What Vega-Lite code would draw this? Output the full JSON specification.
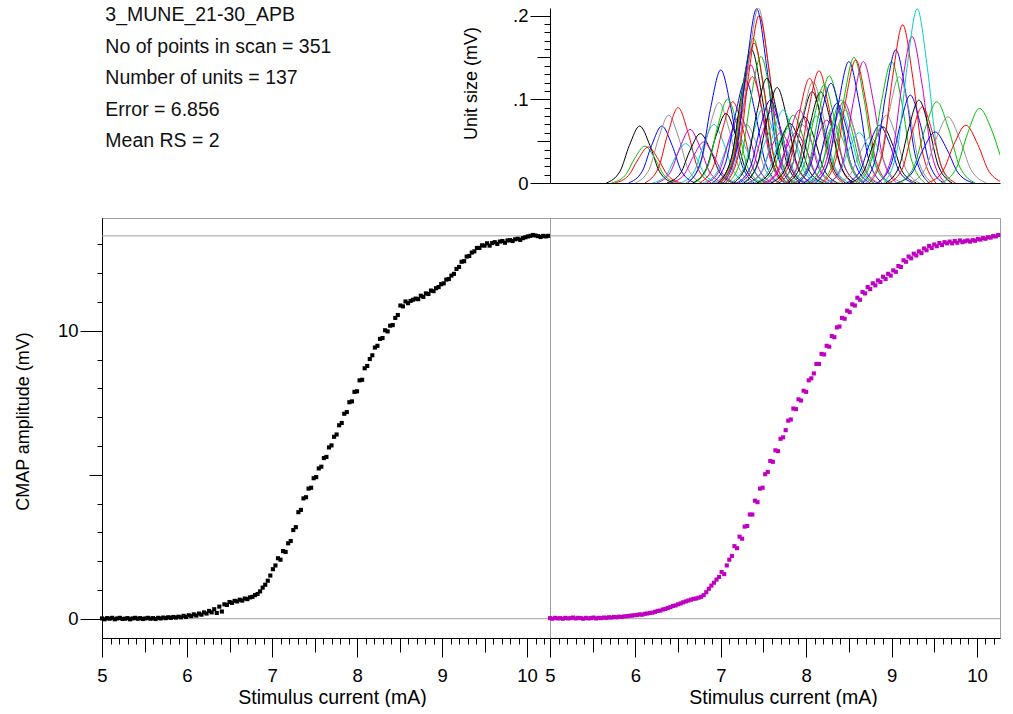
{
"$schema": "https://vega.github.io/schema/vega-lite/v6.json",
"background": "white",
"padding": {"left": 13, "top": 5, "right": 0, "bottom": 0},
"config": {
  "font": "Liberation Sans",
  "view": {"stroke": "#a0a0a0", "strokeWidth": 1},
  "axis": {"labelFont": "Liberation Sans", "titleFont": "Liberation Sans", "labelColor": "black", "titleColor": "black", "tickColor": "black", "domainColor": "black", "titleFontWeight": "normal", "grid": false, "labelOverlap": false, "labelBound": false, "labelFlush": false, "tickWidth": 1, "domainWidth": 1, "labelFontSize": 18.5}
},
"datasets": {
  "info": [
    {"line": 0, "text": "3_MUNE_21-30_APB"},
    {"line": 1, "text": "No of points in scan = 351"},
    {"line": 2, "text": "Number of units = 137"},
    {"line": 3, "text": "Error = 6.856"},
    {"line": 4, "text": "Mean RS = 2"}
  ],
  "refs": [{"ref": 0}, {"ref": 13.3}],
  "units": [
{"u":1,"x":5.66,"y":0},{"u":1,"x":5.82,"y":0.014},{"u":1,"x":5.93,"y":0.045},{"u":1,"x":6.05,"y":0.068},{"u":1,"x":6.17,"y":0.045},{"u":1,"x":6.28,"y":0.014},{"u":1,"x":6.44,"y":0},
{"u":3,"x":5.72,"y":0},{"u":3,"x":5.88,"y":0.009},{"u":3,"x":5.99,"y":0.029},{"u":3,"x":6.11,"y":0.044},{"u":3,"x":6.23,"y":0.029},{"u":3,"x":6.34,"y":0.009},{"u":3,"x":6.50,"y":0},
{"u":2,"x":5.76,"y":0},{"u":2,"x":5.92,"y":0.009},{"u":2,"x":6.03,"y":0.028},{"u":2,"x":6.15,"y":0.043},{"u":2,"x":6.27,"y":0.028},{"u":2,"x":6.38,"y":0.009},{"u":2,"x":6.54,"y":0},
{"u":4,"x":5.92,"y":0},{"u":4,"x":6.08,"y":0.014},{"u":4,"x":6.19,"y":0.045},{"u":4,"x":6.31,"y":0.068},{"u":4,"x":6.43,"y":0.045},{"u":4,"x":6.54,"y":0.014},{"u":4,"x":6.70,"y":0},
{"u":5,"x":6.00,"y":0},{"u":5,"x":6.16,"y":0.016},{"u":5,"x":6.27,"y":0.053},{"u":5,"x":6.39,"y":0.081},{"u":5,"x":6.51,"y":0.053},{"u":5,"x":6.62,"y":0.016},{"u":5,"x":6.78,"y":0},
{"u":9,"x":6.11,"y":0},{"u":9,"x":6.27,"y":0.018},{"u":9,"x":6.38,"y":0.059},{"u":9,"x":6.50,"y":0.090},{"u":9,"x":6.62,"y":0.059},{"u":9,"x":6.73,"y":0.018},{"u":9,"x":6.89,"y":0},
{"u":7,"x":6.20,"y":0},{"u":7,"x":6.36,"y":0.009},{"u":7,"x":6.47,"y":0.031},{"u":7,"x":6.59,"y":0.047},{"u":7,"x":6.71,"y":0.031},{"u":7,"x":6.82,"y":0.009},{"u":7,"x":6.98,"y":0},
{"u":6,"x":6.25,"y":0},{"u":6,"x":6.41,"y":0.013},{"u":6,"x":6.52,"y":0.042},{"u":6,"x":6.64,"y":0.064},{"u":6,"x":6.76,"y":0.042},{"u":6,"x":6.87,"y":0.013},{"u":6,"x":7.03,"y":0},
{"u":8,"x":6.37,"y":0},{"u":8,"x":6.53,"y":0.012},{"u":8,"x":6.64,"y":0.039},{"u":8,"x":6.76,"y":0.059},{"u":8,"x":6.88,"y":0.039},{"u":8,"x":6.99,"y":0.012},{"u":8,"x":7.15,"y":0},
{"u":13,"x":6.41,"y":0},{"u":13,"x":6.57,"y":0.010},{"u":13,"x":6.68,"y":0.032},{"u":13,"x":6.80,"y":0.049},{"u":13,"x":6.92,"y":0.032},{"u":13,"x":7.03,"y":0.010},{"u":13,"x":7.19,"y":0},
{"u":14,"x":6.53,"y":0},{"u":14,"x":6.69,"y":0.014},{"u":14,"x":6.80,"y":0.046},{"u":14,"x":6.92,"y":0.070},{"u":14,"x":7.04,"y":0.046},{"u":14,"x":7.15,"y":0.014},{"u":14,"x":7.31,"y":0},
{"u":12,"x":6.59,"y":0},{"u":12,"x":6.75,"y":0.019},{"u":12,"x":6.86,"y":0.063},{"u":12,"x":6.98,"y":0.096},{"u":12,"x":7.10,"y":0.063},{"u":12,"x":7.21,"y":0.019},{"u":12,"x":7.37,"y":0},
{"u":11,"x":6.61,"y":0},{"u":11,"x":6.77,"y":0.027},{"u":11,"x":6.88,"y":0.089},{"u":11,"x":7.00,"y":0.135},{"u":11,"x":7.12,"y":0.089},{"u":11,"x":7.23,"y":0.027},{"u":11,"x":7.39,"y":0},
{"u":15,"x":6.67,"y":0},{"u":15,"x":6.83,"y":0.017},{"u":15,"x":6.94,"y":0.055},{"u":15,"x":7.06,"y":0.083},{"u":15,"x":7.18,"y":0.055},{"u":15,"x":7.29,"y":0.017},{"u":15,"x":7.45,"y":0},
{"u":10,"x":6.69,"y":0},{"u":10,"x":6.85,"y":0.020},{"u":10,"x":6.96,"y":0.066},{"u":10,"x":7.08,"y":0.100},{"u":10,"x":7.20,"y":0.066},{"u":10,"x":7.31,"y":0.020},{"u":10,"x":7.47,"y":0},
{"u":16,"x":6.75,"y":0},{"u":16,"x":6.91,"y":0.019},{"u":16,"x":7.02,"y":0.064},{"u":16,"x":7.14,"y":0.097},{"u":16,"x":7.26,"y":0.064},{"u":16,"x":7.37,"y":0.019},{"u":16,"x":7.53,"y":0},
{"u":21,"x":6.79,"y":0},{"u":21,"x":6.95,"y":0.012},{"u":21,"x":7.06,"y":0.040},{"u":21,"x":7.18,"y":0.060},{"u":21,"x":7.30,"y":0.040},{"u":21,"x":7.41,"y":0.012},{"u":21,"x":7.57,"y":0},
{"u":20,"x":6.83,"y":0},{"u":20,"x":6.99,"y":0.016},{"u":20,"x":7.10,"y":0.053},{"u":20,"x":7.22,"y":0.080},{"u":20,"x":7.34,"y":0.053},{"u":20,"x":7.45,"y":0.016},{"u":20,"x":7.61,"y":0},
{"u":18,"x":6.90,"y":0},{"u":18,"x":7.06,"y":0.025},{"u":18,"x":7.17,"y":0.081},{"u":18,"x":7.29,"y":0.123},{"u":18,"x":7.41,"y":0.081},{"u":18,"x":7.52,"y":0.025},{"u":18,"x":7.68,"y":0},
{"u":19,"x":6.91,"y":0},{"u":19,"x":7.07,"y":0.014},{"u":19,"x":7.18,"y":0.046},{"u":19,"x":7.30,"y":0.070},{"u":19,"x":7.42,"y":0.046},{"u":19,"x":7.53,"y":0.014},{"u":19,"x":7.69,"y":0},
{"u":27,"x":6.96,"y":0},{"u":27,"x":7.12,"y":0.028},{"u":27,"x":7.23,"y":0.093},{"u":27,"x":7.35,"y":0.141},{"u":27,"x":7.47,"y":0.093},{"u":27,"x":7.58,"y":0.028},{"u":27,"x":7.74,"y":0},
{"u":22,"x":6.97,"y":0},{"u":22,"x":7.13,"y":0.032},{"u":22,"x":7.24,"y":0.105},{"u":22,"x":7.36,"y":0.159},{"u":22,"x":7.48,"y":0.105},{"u":22,"x":7.59,"y":0.032},{"u":22,"x":7.75,"y":0},
{"u":23,"x":6.98,"y":0},{"u":23,"x":7.14,"y":0.025},{"u":23,"x":7.25,"y":0.084},{"u":23,"x":7.37,"y":0.127},{"u":23,"x":7.49,"y":0.084},{"u":23,"x":7.60,"y":0.025},{"u":23,"x":7.76,"y":0},
{"u":17,"x":6.99,"y":0},{"u":17,"x":7.15,"y":0.035},{"u":17,"x":7.26,"y":0.114},{"u":17,"x":7.38,"y":0.173},{"u":17,"x":7.50,"y":0.114},{"u":17,"x":7.61,"y":0.035},{"u":17,"x":7.77,"y":0},
{"u":30,"x":7.00,"y":0},{"u":30,"x":7.16,"y":0.033},{"u":30,"x":7.27,"y":0.110},{"u":30,"x":7.39,"y":0.167},{"u":30,"x":7.51,"y":0.110},{"u":30,"x":7.62,"y":0.033},{"u":30,"x":7.78,"y":0},
{"u":25,"x":7.03,"y":0},{"u":25,"x":7.19,"y":0.042},{"u":25,"x":7.30,"y":0.137},{"u":25,"x":7.42,"y":0.208},{"u":25,"x":7.54,"y":0.137},{"u":25,"x":7.65,"y":0.042},{"u":25,"x":7.81,"y":0},
{"u":26,"x":7.05,"y":0},{"u":26,"x":7.21,"y":0.042},{"u":26,"x":7.32,"y":0.138},{"u":26,"x":7.44,"y":0.209},{"u":26,"x":7.56,"y":0.138},{"u":26,"x":7.67,"y":0.042},{"u":26,"x":7.83,"y":0},
{"u":37,"x":7.06,"y":0},{"u":37,"x":7.22,"y":0.040},{"u":37,"x":7.33,"y":0.132},{"u":37,"x":7.45,"y":0.200},{"u":37,"x":7.57,"y":0.132},{"u":37,"x":7.68,"y":0.040},{"u":37,"x":7.84,"y":0},
{"u":24,"x":7.08,"y":0},{"u":24,"x":7.24,"y":0.030},{"u":24,"x":7.35,"y":0.100},{"u":24,"x":7.47,"y":0.151},{"u":24,"x":7.59,"y":0.100},{"u":24,"x":7.70,"y":0.030},{"u":24,"x":7.86,"y":0},
{"u":28,"x":7.11,"y":0},{"u":28,"x":7.27,"y":0.018},{"u":28,"x":7.38,"y":0.059},{"u":28,"x":7.50,"y":0.090},{"u":28,"x":7.62,"y":0.059},{"u":28,"x":7.73,"y":0.018},{"u":28,"x":7.89,"y":0},
{"u":29,"x":7.15,"y":0},{"u":29,"x":7.31,"y":0.025},{"u":29,"x":7.42,"y":0.083},{"u":29,"x":7.54,"y":0.125},{"u":29,"x":7.66,"y":0.083},{"u":29,"x":7.77,"y":0.025},{"u":29,"x":7.93,"y":0},
{"u":32,"x":7.19,"y":0},{"u":32,"x":7.35,"y":0.020},{"u":32,"x":7.46,"y":0.065},{"u":32,"x":7.58,"y":0.099},{"u":32,"x":7.70,"y":0.065},{"u":32,"x":7.81,"y":0.020},{"u":32,"x":7.97,"y":0},
{"u":34,"x":7.21,"y":0},{"u":34,"x":7.37,"y":0.017},{"u":34,"x":7.48,"y":0.057},{"u":34,"x":7.60,"y":0.087},{"u":34,"x":7.72,"y":0.057},{"u":34,"x":7.83,"y":0.017},{"u":34,"x":7.99,"y":0},
{"u":35,"x":7.24,"y":0},{"u":35,"x":7.40,"y":0.014},{"u":35,"x":7.51,"y":0.046},{"u":35,"x":7.63,"y":0.070},{"u":35,"x":7.75,"y":0.046},{"u":35,"x":7.86,"y":0.014},{"u":35,"x":8.02,"y":0},
{"u":36,"x":7.27,"y":0},{"u":36,"x":7.43,"y":0.023},{"u":36,"x":7.54,"y":0.075},{"u":36,"x":7.66,"y":0.114},{"u":36,"x":7.78,"y":0.075},{"u":36,"x":7.89,"y":0.023},{"u":36,"x":8.05,"y":0},
{"u":41,"x":7.31,"y":0},{"u":41,"x":7.47,"y":0.012},{"u":41,"x":7.58,"y":0.040},{"u":41,"x":7.70,"y":0.060},{"u":41,"x":7.82,"y":0.040},{"u":41,"x":7.93,"y":0.012},{"u":41,"x":8.09,"y":0},
{"u":42,"x":7.34,"y":0},{"u":42,"x":7.50,"y":0.017},{"u":42,"x":7.61,"y":0.057},{"u":42,"x":7.73,"y":0.087},{"u":42,"x":7.85,"y":0.057},{"u":42,"x":7.96,"y":0.017},{"u":42,"x":8.12,"y":0},
{"u":49,"x":7.39,"y":0},{"u":49,"x":7.55,"y":0.013},{"u":49,"x":7.66,"y":0.043},{"u":49,"x":7.78,"y":0.065},{"u":49,"x":7.90,"y":0.043},{"u":49,"x":8.01,"y":0.013},{"u":49,"x":8.17,"y":0},
{"u":43,"x":7.42,"y":0},{"u":43,"x":7.58,"y":0.014},{"u":43,"x":7.69,"y":0.047},{"u":43,"x":7.81,"y":0.071},{"u":43,"x":7.93,"y":0.047},{"u":43,"x":8.04,"y":0.014},{"u":43,"x":8.20,"y":0},
{"u":31,"x":7.46,"y":0},{"u":31,"x":7.62,"y":0.016},{"u":31,"x":7.73,"y":0.053},{"u":31,"x":7.85,"y":0.081},{"u":31,"x":7.97,"y":0.053},{"u":31,"x":8.08,"y":0.016},{"u":31,"x":8.24,"y":0},
{"u":48,"x":7.49,"y":0},{"u":48,"x":7.65,"y":0.012},{"u":48,"x":7.76,"y":0.040},{"u":48,"x":7.88,"y":0.060},{"u":48,"x":8.00,"y":0.040},{"u":48,"x":8.11,"y":0.012},{"u":48,"x":8.27,"y":0},
{"u":55,"x":7.53,"y":0},{"u":55,"x":7.69,"y":0.017},{"u":55,"x":7.80,"y":0.057},{"u":55,"x":7.92,"y":0.087},{"u":55,"x":8.04,"y":0.057},{"u":55,"x":8.15,"y":0.017},{"u":55,"x":8.31,"y":0},
{"u":33,"x":7.56,"y":0},{"u":33,"x":7.72,"y":0.014},{"u":33,"x":7.83,"y":0.046},{"u":33,"x":7.95,"y":0.070},{"u":33,"x":8.07,"y":0.046},{"u":33,"x":8.18,"y":0.014},{"u":33,"x":8.34,"y":0},
{"u":50,"x":7.59,"y":0},{"u":50,"x":7.75,"y":0.016},{"u":50,"x":7.86,"y":0.052},{"u":50,"x":7.98,"y":0.079},{"u":50,"x":8.10,"y":0.052},{"u":50,"x":8.21,"y":0.016},{"u":50,"x":8.37,"y":0},
{"u":44,"x":7.65,"y":0},{"u":44,"x":7.81,"y":0.025},{"u":44,"x":7.92,"y":0.083},{"u":44,"x":8.04,"y":0.125},{"u":44,"x":8.16,"y":0.083},{"u":44,"x":8.27,"y":0.025},{"u":44,"x":8.43,"y":0},
{"u":57,"x":7.68,"y":0},{"u":57,"x":7.84,"y":0.022},{"u":57,"x":7.95,"y":0.072},{"u":57,"x":8.07,"y":0.109},{"u":57,"x":8.19,"y":0.072},{"u":57,"x":8.30,"y":0.022},{"u":57,"x":8.46,"y":0},
{"u":40,"x":7.69,"y":0},{"u":40,"x":7.85,"y":0.024},{"u":40,"x":7.96,"y":0.080},{"u":40,"x":8.08,"y":0.121},{"u":40,"x":8.20,"y":0.080},{"u":40,"x":8.31,"y":0.024},{"u":40,"x":8.47,"y":0},
{"u":56,"x":7.73,"y":0},{"u":56,"x":7.89,"y":0.016},{"u":56,"x":8.00,"y":0.053},{"u":56,"x":8.12,"y":0.080},{"u":56,"x":8.24,"y":0.053},{"u":56,"x":8.35,"y":0.016},{"u":56,"x":8.51,"y":0},
{"u":51,"x":7.76,"y":0},{"u":51,"x":7.92,"y":0.027},{"u":51,"x":8.03,"y":0.088},{"u":51,"x":8.15,"y":0.134},{"u":51,"x":8.27,"y":0.088},{"u":51,"x":8.38,"y":0.027},{"u":51,"x":8.54,"y":0},
{"u":64,"x":7.78,"y":0},{"u":64,"x":7.94,"y":0.022},{"u":64,"x":8.05,"y":0.072},{"u":64,"x":8.17,"y":0.109},{"u":64,"x":8.29,"y":0.072},{"u":64,"x":8.40,"y":0.022},{"u":64,"x":8.56,"y":0},
{"u":38,"x":7.82,"y":0},{"u":38,"x":7.98,"y":0.023},{"u":38,"x":8.09,"y":0.077},{"u":38,"x":8.21,"y":0.117},{"u":38,"x":8.33,"y":0.077},{"u":38,"x":8.44,"y":0.023},{"u":38,"x":8.60,"y":0},
{"u":62,"x":7.85,"y":0},{"u":62,"x":8.01,"y":0.015},{"u":62,"x":8.12,"y":0.050},{"u":62,"x":8.24,"y":0.075},{"u":62,"x":8.36,"y":0.050},{"u":62,"x":8.47,"y":0.015},{"u":62,"x":8.63,"y":0},
{"u":45,"x":7.88,"y":0},{"u":45,"x":8.04,"y":0.026},{"u":45,"x":8.15,"y":0.084},{"u":45,"x":8.27,"y":0.128},{"u":45,"x":8.39,"y":0.084},{"u":45,"x":8.50,"y":0.026},{"u":45,"x":8.66,"y":0},
{"u":39,"x":7.90,"y":0},{"u":39,"x":8.06,"y":0.024},{"u":39,"x":8.17,"y":0.079},{"u":39,"x":8.29,"y":0.119},{"u":39,"x":8.41,"y":0.079},{"u":39,"x":8.52,"y":0.024},{"u":39,"x":8.68,"y":0},
{"u":47,"x":7.94,"y":0},{"u":47,"x":8.10,"y":0.014},{"u":47,"x":8.21,"y":0.046},{"u":47,"x":8.33,"y":0.070},{"u":47,"x":8.45,"y":0.046},{"u":47,"x":8.56,"y":0.014},{"u":47,"x":8.72,"y":0},
{"u":46,"x":7.97,"y":0},{"u":46,"x":8.13,"y":0.019},{"u":46,"x":8.24,"y":0.063},{"u":46,"x":8.36,"y":0.095},{"u":46,"x":8.48,"y":0.063},{"u":46,"x":8.59,"y":0.019},{"u":46,"x":8.75,"y":0},
{"u":63,"x":8.01,"y":0},{"u":63,"x":8.17,"y":0.017},{"u":63,"x":8.28,"y":0.057},{"u":63,"x":8.40,"y":0.087},{"u":63,"x":8.52,"y":0.057},{"u":63,"x":8.63,"y":0.017},{"u":63,"x":8.79,"y":0},
{"u":52,"x":8.02,"y":0},{"u":52,"x":8.18,"y":0.020},{"u":52,"x":8.29,"y":0.065},{"u":52,"x":8.41,"y":0.099},{"u":52,"x":8.53,"y":0.065},{"u":52,"x":8.64,"y":0.020},{"u":52,"x":8.80,"y":0},
{"u":69,"x":8.05,"y":0},{"u":69,"x":8.21,"y":0.019},{"u":69,"x":8.32,"y":0.064},{"u":69,"x":8.44,"y":0.097},{"u":69,"x":8.56,"y":0.064},{"u":69,"x":8.67,"y":0.019},{"u":69,"x":8.83,"y":0},
{"u":54,"x":8.07,"y":0},{"u":54,"x":8.23,"y":0.017},{"u":54,"x":8.34,"y":0.057},{"u":54,"x":8.46,"y":0.087},{"u":54,"x":8.58,"y":0.057},{"u":54,"x":8.69,"y":0.017},{"u":54,"x":8.85,"y":0},
{"u":53,"x":8.11,"y":0},{"u":53,"x":8.27,"y":0.029},{"u":53,"x":8.38,"y":0.096},{"u":53,"x":8.50,"y":0.145},{"u":53,"x":8.62,"y":0.096},{"u":53,"x":8.73,"y":0.029},{"u":53,"x":8.89,"y":0},
{"u":59,"x":8.17,"y":0},{"u":59,"x":8.33,"y":0.030},{"u":59,"x":8.44,"y":0.099},{"u":59,"x":8.56,"y":0.150},{"u":59,"x":8.68,"y":0.099},{"u":59,"x":8.79,"y":0.030},{"u":59,"x":8.95,"y":0},
{"u":58,"x":8.19,"y":0},{"u":58,"x":8.35,"y":0.029},{"u":58,"x":8.46,"y":0.097},{"u":58,"x":8.58,"y":0.147},{"u":58,"x":8.70,"y":0.097},{"u":58,"x":8.81,"y":0.029},{"u":58,"x":8.97,"y":0},
{"u":70,"x":8.23,"y":0},{"u":70,"x":8.39,"y":0.012},{"u":70,"x":8.50,"y":0.040},{"u":70,"x":8.62,"y":0.060},{"u":70,"x":8.74,"y":0.040},{"u":70,"x":8.85,"y":0.012},{"u":70,"x":9.01,"y":0},
{"u":76,"x":8.28,"y":0},{"u":76,"x":8.44,"y":0.029},{"u":76,"x":8.55,"y":0.096},{"u":76,"x":8.67,"y":0.145},{"u":76,"x":8.79,"y":0.096},{"u":76,"x":8.90,"y":0.029},{"u":76,"x":9.06,"y":0},
{"u":61,"x":8.36,"y":0},{"u":61,"x":8.52,"y":0.011},{"u":61,"x":8.63,"y":0.036},{"u":61,"x":8.75,"y":0.055},{"u":61,"x":8.87,"y":0.036},{"u":61,"x":8.98,"y":0.011},{"u":61,"x":9.14,"y":0},
{"u":60,"x":8.47,"y":0},{"u":60,"x":8.63,"y":0.014},{"u":60,"x":8.74,"y":0.046},{"u":60,"x":8.86,"y":0.069},{"u":60,"x":8.98,"y":0.046},{"u":60,"x":9.09,"y":0.014},{"u":60,"x":9.25,"y":0},
{"u":71,"x":8.51,"y":0},{"u":71,"x":8.67,"y":0.013},{"u":71,"x":8.78,"y":0.044},{"u":71,"x":8.90,"y":0.067},{"u":71,"x":9.02,"y":0.044},{"u":71,"x":9.13,"y":0.013},{"u":71,"x":9.29,"y":0},
{"u":68,"x":8.55,"y":0},{"u":68,"x":8.71,"y":0.016},{"u":68,"x":8.82,"y":0.053},{"u":68,"x":8.94,"y":0.081},{"u":68,"x":9.06,"y":0.053},{"u":68,"x":9.17,"y":0.016},{"u":68,"x":9.33,"y":0},
{"u":66,"x":8.61,"y":0},{"u":66,"x":8.77,"y":0.029},{"u":66,"x":8.88,"y":0.096},{"u":66,"x":9.00,"y":0.145},{"u":66,"x":9.12,"y":0.096},{"u":66,"x":9.23,"y":0.029},{"u":66,"x":9.39,"y":0},
{"u":67,"x":8.66,"y":0},{"u":67,"x":8.82,"y":0.032},{"u":67,"x":8.93,"y":0.105},{"u":67,"x":9.05,"y":0.159},{"u":67,"x":9.17,"y":0.105},{"u":67,"x":9.28,"y":0.032},{"u":67,"x":9.44,"y":0},
{"u":75,"x":8.70,"y":0},{"u":75,"x":8.86,"y":0.025},{"u":75,"x":8.97,"y":0.084},{"u":75,"x":9.09,"y":0.127},{"u":75,"x":9.21,"y":0.084},{"u":75,"x":9.32,"y":0.025},{"u":75,"x":9.48,"y":0},
{"u":65,"x":8.74,"y":0},{"u":65,"x":8.90,"y":0.038},{"u":65,"x":9.01,"y":0.125},{"u":65,"x":9.13,"y":0.189},{"u":65,"x":9.25,"y":0.125},{"u":65,"x":9.36,"y":0.038},{"u":65,"x":9.52,"y":0},
{"u":74,"x":8.83,"y":0},{"u":74,"x":8.99,"y":0.021},{"u":74,"x":9.10,"y":0.069},{"u":74,"x":9.22,"y":0.105},{"u":74,"x":9.34,"y":0.069},{"u":74,"x":9.45,"y":0.021},{"u":74,"x":9.61,"y":0},
{"u":83,"x":8.85,"y":0},{"u":83,"x":9.01,"y":0.035},{"u":83,"x":9.12,"y":0.116},{"u":83,"x":9.24,"y":0.175},{"u":83,"x":9.36,"y":0.116},{"u":83,"x":9.47,"y":0.035},{"u":83,"x":9.63,"y":0},
{"u":77,"x":8.91,"y":0},{"u":77,"x":9.07,"y":0.042},{"u":77,"x":9.18,"y":0.137},{"u":77,"x":9.30,"y":0.208},{"u":77,"x":9.42,"y":0.137},{"u":77,"x":9.53,"y":0.042},{"u":77,"x":9.69,"y":0},
{"u":78,"x":8.93,"y":0},{"u":78,"x":9.09,"y":0.020},{"u":78,"x":9.20,"y":0.065},{"u":78,"x":9.32,"y":0.099},{"u":78,"x":9.44,"y":0.065},{"u":78,"x":9.55,"y":0.020},{"u":78,"x":9.71,"y":0},
{"u":72,"x":8.97,"y":0},{"u":72,"x":9.13,"y":0.018},{"u":72,"x":9.24,"y":0.060},{"u":72,"x":9.36,"y":0.091},{"u":72,"x":9.48,"y":0.060},{"u":72,"x":9.59,"y":0.018},{"u":72,"x":9.75,"y":0},
{"u":81,"x":9.06,"y":0},{"u":81,"x":9.24,"y":0.012},{"u":81,"x":9.37,"y":0.040},{"u":81,"x":9.51,"y":0.061},{"u":81,"x":9.65,"y":0.040},{"u":81,"x":9.78,"y":0.012},{"u":81,"x":9.96,"y":0},
{"u":73,"x":9.08,"y":0},{"u":73,"x":9.26,"y":0.019},{"u":73,"x":9.39,"y":0.064},{"u":73,"x":9.53,"y":0.097},{"u":73,"x":9.67,"y":0.064},{"u":73,"x":9.80,"y":0.019},{"u":73,"x":9.98,"y":0},
{"u":82,"x":9.21,"y":0},{"u":82,"x":9.39,"y":0.016},{"u":82,"x":9.52,"y":0.052},{"u":82,"x":9.66,"y":0.079},{"u":82,"x":9.80,"y":0.052},{"u":82,"x":9.93,"y":0.016},{"u":82,"x":10.11,"y":0},
{"u":79,"x":9.42,"y":0},{"u":79,"x":9.60,"y":0.014},{"u":79,"x":9.73,"y":0.046},{"u":79,"x":9.87,"y":0.069},{"u":79,"x":10.01,"y":0.046},{"u":79,"x":10.14,"y":0.014},{"u":79,"x":10.32,"y":0},
{"u":80,"x":9.58,"y":0},{"u":80,"x":9.76,"y":0.018},{"u":80,"x":9.89,"y":0.059},{"u":80,"x":10.03,"y":0.089},{"u":80,"x":10.17,"y":0.064},{"u":80,"x":10.30,"y":0.026},{"u":80,"x":10.48,"y":0}
  ],
  "raw": [
{"x":5.00,"y":0.01},{"x":5.03,"y":-0.02},{"x":5.06,"y":0.02},{"x":5.09,"y":0.00},{"x":5.12,"y":0.03},{"x":5.15,"y":-0.02},{"x":5.18,"y":0.01},{"x":5.21,"y":0.03},{"x":5.24,"y":-0.01},{"x":5.27,"y":0.00},
{"x":5.30,"y":0.02},{"x":5.33,"y":-0.02},{"x":5.36,"y":0.01},{"x":5.39,"y":0.03},{"x":5.42,"y":0.00},{"x":5.45,"y":0.02},{"x":5.48,"y":-0.01},{"x":5.51,"y":0.01},{"x":5.54,"y":0.03},{"x":5.57,"y":0.00},
{"x":5.60,"y":0.02},{"x":5.63,"y":-0.01},{"x":5.66,"y":0.03},{"x":5.69,"y":0.01},{"x":5.72,"y":0.04},{"x":5.75,"y":0.02},{"x":5.78,"y":0.05},{"x":5.81,"y":0.03},{"x":5.84,"y":0.06},{"x":5.87,"y":0.04},
{"x":5.90,"y":0.07},{"x":5.93,"y":0.05},{"x":5.96,"y":0.10},{"x":5.99,"y":0.06},{"x":6.02,"y":0.12},{"x":6.05,"y":0.09},{"x":6.08,"y":0.15},{"x":6.11,"y":0.11},{"x":6.14,"y":0.18},{"x":6.17,"y":0.14},
{"x":6.20,"y":0.22},{"x":6.23,"y":0.18},{"x":6.26,"y":0.27},{"x":6.29,"y":0.22},{"x":6.32,"y":0.33},{"x":6.35,"y":0.20},{"x":6.38,"y":0.42},{"x":6.41,"y":0.25},{"x":6.44,"y":0.50},{"x":6.47,"y":0.48},
{"x":6.50,"y":0.58},{"x":6.53,"y":0.55},{"x":6.56,"y":0.62},{"x":6.59,"y":0.60},{"x":6.62,"y":0.66},{"x":6.65,"y":0.63},{"x":6.68,"y":0.70},{"x":6.71,"y":0.68},{"x":6.74,"y":0.74},{"x":6.77,"y":0.76},
{"x":6.80,"y":0.82},{"x":6.83,"y":0.86},{"x":6.86,"y":0.95},{"x":6.89,"y":1.08},{"x":6.92,"y":1.18},{"x":6.95,"y":1.32},{"x":6.98,"y":1.50},{"x":7.01,"y":1.72},{"x":7.04,"y":1.85},{"x":7.07,"y":2.10},
{"x":7.10,"y":2.05},{"x":7.13,"y":2.35},{"x":7.16,"y":2.32},{"x":7.19,"y":2.62},{"x":7.22,"y":2.70},{"x":7.25,"y":3.08},{"x":7.28,"y":3.18},{"x":7.31,"y":3.70},{"x":7.34,"y":3.78},{"x":7.37,"y":4.18},
{"x":7.40,"y":4.22},{"x":7.43,"y":4.52},{"x":7.46,"y":4.55},{"x":7.49,"y":4.88},{"x":7.52,"y":4.92},{"x":7.55,"y":5.22},{"x":7.58,"y":5.28},{"x":7.61,"y":5.58},{"x":7.64,"y":5.62},{"x":7.67,"y":5.95},
{"x":7.70,"y":6.02},{"x":7.73,"y":6.32},{"x":7.76,"y":6.40},{"x":7.79,"y":6.72},{"x":7.82,"y":6.80},{"x":7.85,"y":7.12},{"x":7.88,"y":7.18},{"x":7.91,"y":7.52},{"x":7.94,"y":7.55},{"x":7.97,"y":7.88},
{"x":8.00,"y":7.90},{"x":8.03,"y":8.28},{"x":8.06,"y":8.30},{"x":8.09,"y":8.70},{"x":8.12,"y":8.78},{"x":8.15,"y":9.02},{"x":8.18,"y":9.15},{"x":8.21,"y":9.42},{"x":8.24,"y":9.48},{"x":8.27,"y":9.72},
{"x":8.30,"y":9.75},{"x":8.33,"y":10.02},{"x":8.36,"y":9.98},{"x":8.39,"y":10.18},{"x":8.42,"y":10.20},{"x":8.45,"y":10.45},{"x":8.48,"y":10.55},{"x":8.51,"y":10.88},{"x":8.54,"y":10.85},{"x":8.57,"y":11.02},
{"x":8.60,"y":10.96},{"x":8.63,"y":11.04},{"x":8.66,"y":11.08},{"x":8.69,"y":11.12},{"x":8.72,"y":11.10},{"x":8.75,"y":11.22},{"x":8.78,"y":11.18},{"x":8.81,"y":11.30},{"x":8.84,"y":11.28},{"x":8.87,"y":11.40},
{"x":8.90,"y":11.38},{"x":8.93,"y":11.48},{"x":8.96,"y":11.52},{"x":8.99,"y":11.62},{"x":9.02,"y":11.65},{"x":9.05,"y":11.78},{"x":9.08,"y":11.80},{"x":9.11,"y":11.92},{"x":9.14,"y":11.98},{"x":9.17,"y":12.15},
{"x":9.20,"y":12.22},{"x":9.23,"y":12.40},{"x":9.26,"y":12.42},{"x":9.29,"y":12.58},{"x":9.32,"y":12.60},{"x":9.35,"y":12.72},{"x":9.38,"y":12.76},{"x":9.41,"y":12.88},{"x":9.44,"y":12.88},{"x":9.47,"y":12.97},
{"x":9.50,"y":12.96},{"x":9.53,"y":13.04},{"x":9.56,"y":12.96},{"x":9.59,"y":13.05},{"x":9.62,"y":13.08},{"x":9.65,"y":13.02},{"x":9.68,"y":13.10},{"x":9.71,"y":13.12},{"x":9.74,"y":13.06},{"x":9.77,"y":13.14},
{"x":9.80,"y":13.15},{"x":9.83,"y":13.12},{"x":9.86,"y":13.18},{"x":9.89,"y":13.20},{"x":9.92,"y":13.16},{"x":9.95,"y":13.22},{"x":9.98,"y":13.25},{"x":10.01,"y":13.28},{"x":10.04,"y":13.30},{"x":10.07,"y":13.33},
{"x":10.10,"y":13.31},{"x":10.13,"y":13.29},{"x":10.16,"y":13.26},{"x":10.19,"y":13.30},{"x":10.22,"y":13.28},{"x":10.25,"y":13.30}
  ],
  "fit": [
{"x":5.00,"y":0.02},{"x":5.03,"y":0.00},{"x":5.06,"y":0.03},{"x":5.09,"y":0.01},{"x":5.12,"y":0.02},{"x":5.15,"y":0.00},{"x":5.18,"y":0.03},{"x":5.21,"y":0.01},{"x":5.24,"y":0.02},{"x":5.27,"y":0.04},
{"x":5.30,"y":0.01},{"x":5.33,"y":0.03},{"x":5.36,"y":0.02},{"x":5.39,"y":0.00},{"x":5.42,"y":0.03},{"x":5.45,"y":0.01},{"x":5.48,"y":0.02},{"x":5.51,"y":0.04},{"x":5.54,"y":0.01},{"x":5.57,"y":0.03},
{"x":5.60,"y":0.02},{"x":5.63,"y":0.04},{"x":5.66,"y":0.03},{"x":5.69,"y":0.05},{"x":5.72,"y":0.04},{"x":5.75,"y":0.06},{"x":5.78,"y":0.05},{"x":5.81,"y":0.07},{"x":5.84,"y":0.06},{"x":5.87,"y":0.08},
{"x":5.90,"y":0.09},{"x":5.93,"y":0.10},{"x":5.96,"y":0.11},{"x":5.99,"y":0.12},{"x":6.02,"y":0.13},{"x":6.05,"y":0.15},{"x":6.08,"y":0.14},{"x":6.11,"y":0.17},{"x":6.14,"y":0.18},{"x":6.17,"y":0.20},
{"x":6.20,"y":0.21},{"x":6.23,"y":0.24},{"x":6.26,"y":0.27},{"x":6.29,"y":0.28},{"x":6.32,"y":0.32},{"x":6.35,"y":0.34},{"x":6.38,"y":0.37},{"x":6.41,"y":0.40},{"x":6.44,"y":0.44},{"x":6.47,"y":0.46},
{"x":6.50,"y":0.50},{"x":6.53,"y":0.53},{"x":6.56,"y":0.57},{"x":6.59,"y":0.60},{"x":6.62,"y":0.63},{"x":6.65,"y":0.66},{"x":6.68,"y":0.69},{"x":6.71,"y":0.70},{"x":6.74,"y":0.73},{"x":6.77,"y":0.76},
{"x":6.80,"y":0.82},{"x":6.83,"y":0.92},{"x":6.86,"y":1.04},{"x":6.89,"y":1.15},{"x":6.92,"y":1.25},{"x":6.95,"y":1.36},{"x":6.98,"y":1.45},{"x":7.01,"y":1.62},{"x":7.04,"y":1.55},{"x":7.07,"y":1.85},
{"x":7.10,"y":2.05},{"x":7.13,"y":2.18},{"x":7.16,"y":2.52},{"x":7.19,"y":2.45},{"x":7.22,"y":2.85},{"x":7.25,"y":2.78},{"x":7.28,"y":3.20},{"x":7.31,"y":3.22},{"x":7.34,"y":3.62},{"x":7.37,"y":3.62},
{"x":7.40,"y":4.10},{"x":7.43,"y":4.05},{"x":7.46,"y":4.52},{"x":7.49,"y":4.55},{"x":7.52,"y":5.02},{"x":7.55,"y":5.10},{"x":7.58,"y":5.48},{"x":7.61,"y":5.45},{"x":7.64,"y":5.85},{"x":7.67,"y":5.82},
{"x":7.70,"y":6.25},{"x":7.73,"y":6.30},{"x":7.76,"y":6.55},{"x":7.79,"y":6.88},{"x":7.82,"y":6.92},{"x":7.85,"y":7.30},{"x":7.88,"y":7.28},{"x":7.91,"y":7.62},{"x":7.94,"y":7.58},{"x":7.97,"y":7.92},
{"x":8.00,"y":7.88},{"x":8.03,"y":8.28},{"x":8.06,"y":8.35},{"x":8.09,"y":8.52},{"x":8.12,"y":8.85},{"x":8.15,"y":8.85},{"x":8.18,"y":9.20},{"x":8.21,"y":9.18},{"x":8.24,"y":9.48},{"x":8.27,"y":9.45},
{"x":8.30,"y":9.82},{"x":8.33,"y":9.78},{"x":8.36,"y":10.12},{"x":8.39,"y":10.15},{"x":8.42,"y":10.45},{"x":8.45,"y":10.42},{"x":8.48,"y":10.70},{"x":8.51,"y":10.65},{"x":8.54,"y":10.92},{"x":8.57,"y":10.88},
{"x":8.60,"y":11.15},{"x":8.63,"y":11.08},{"x":8.66,"y":11.35},{"x":8.69,"y":11.30},{"x":8.72,"y":11.52},{"x":8.75,"y":11.45},{"x":8.78,"y":11.65},{"x":8.81,"y":11.58},{"x":8.84,"y":11.75},{"x":8.87,"y":11.70},
{"x":8.90,"y":11.88},{"x":8.93,"y":11.80},{"x":8.96,"y":11.98},{"x":8.99,"y":11.92},{"x":9.02,"y":12.10},{"x":9.05,"y":12.05},{"x":9.08,"y":12.25},{"x":9.11,"y":12.22},{"x":9.14,"y":12.45},{"x":9.17,"y":12.40},
{"x":9.20,"y":12.58},{"x":9.23,"y":12.52},{"x":9.26,"y":12.68},{"x":9.29,"y":12.62},{"x":9.32,"y":12.76},{"x":9.35,"y":12.70},{"x":9.38,"y":12.86},{"x":9.41,"y":12.80},{"x":9.44,"y":12.95},{"x":9.47,"y":12.88},
{"x":9.50,"y":13.00},{"x":9.53,"y":12.94},{"x":9.56,"y":13.05},{"x":9.59,"y":12.98},{"x":9.62,"y":13.08},{"x":9.65,"y":13.04},{"x":9.68,"y":13.10},{"x":9.71,"y":13.04},{"x":9.74,"y":13.12},{"x":9.77,"y":13.06},
{"x":9.80,"y":13.14},{"x":9.83,"y":13.08},{"x":9.86,"y":13.11},{"x":9.89,"y":13.14},{"x":9.92,"y":13.10},{"x":9.95,"y":13.15},{"x":9.98,"y":13.13},{"x":10.01,"y":13.19},{"x":10.04,"y":13.17},{"x":10.07,"y":13.22},
{"x":10.10,"y":13.20},{"x":10.13,"y":13.25},{"x":10.16,"y":13.24},{"x":10.19,"y":13.29},{"x":10.22,"y":13.28},{"x":10.25,"y":13.33}
  ]
},
"columns": 2,
"spacing": {"row": 35, "column": 0},
"bounds": "flush",
"concat": [
  {
    "width": 448, "height": 175,
    "view": {"stroke": null},
    "data": {"name": "info"},
    "mark": {"type": "text", "align": "left", "baseline": "alphabetic", "fontSize": 19.5, "font": "Liberation Sans", "color": "#111111"},
    "encoding": {
      "y": {"field": "line", "type": "quantitative", "scale": {"domain": [-0.413, 5.143], "reverse": true, "nice": false, "zero": false}, "axis": null},
      "x": {"datum": 0, "type": "quantitative", "scale": {"domain": [-1, 135], "nice": false, "zero": false}, "axis": null},
      "text": {"field": "text"}
    }
  },
  {
    "width": 450, "height": 175,
    "view": {"stroke": null},
    "data": {"name": "units"},
    "resolve": {"axis": {"y": "independent"}},
    "layer": [
      {
        "mark": {"type": "line", "interpolate": "monotone", "strokeWidth": 1, "clip": true},
        "encoding": {
          "x": {"field": "x", "type": "quantitative", "scale": {"domain": [5, 10.27], "nice": false, "zero": false},
                "axis": {"labels": false, "ticks": false, "title": null, "domain": true}},
          "y": {"field": "y", "type": "quantitative", "scale": {"domain": [0, 0.209], "nice": false},
                "axis": {"orient": "left", "title": "Unit size (mV)", "titleFontSize": 18, "titlePadding": 32, "titleY": 75, "labelPadding": 2,
                         "values": [0, 0.1, 0.2], "tickSize": 20,
                         "labelExpr": "datum.value == 0 ? '0' : datum.value == 0.1 ? '.1' : '.2'"}},
          "color": {"field": "u", "type": "ordinal", "scale": {"range": ["#000000", "#ff0000", "#00c000", "#0000ff", "#909090", "#cc00cc", "#00cccc"]}, "legend": null}
        }
      },
      {
        "mark": {"type": "point", "opacity": 0, "clip": true},
        "encoding": {
          "x": {"field": "x", "type": "quantitative", "scale": {"domain": [5, 10.27], "nice": false, "zero": false}},
          "y": {"field": "y", "type": "quantitative", "scale": {"domain": [0, 0.209], "nice": false},
                "axis": {"orient": "left", "title": null, "labels": false, "domain": false, "values": [0.05, 0.15], "tickSize": 13}}
        }
      },
      {
        "mark": {"type": "point", "opacity": 0, "clip": true},
        "encoding": {
          "x": {"field": "x", "type": "quantitative", "scale": {"domain": [5, 10.27], "nice": false, "zero": false}},
          "y": {"field": "y", "type": "quantitative", "scale": {"domain": [0, 0.209], "nice": false},
                "axis": {"orient": "left", "title": null, "labels": false, "domain": false, "tickSize": 6,
                         "values": [0.01,0.02,0.03,0.04,0.06,0.07,0.08,0.09,0.11,0.12,0.13,0.14,0.16,0.17,0.18,0.19]}}
        }
      }
    ]
  },
  {
    "width": 448, "height": 420,
    "resolve": {"axis": {"x": "independent", "y": "independent"}},
    "layer": [
      {
        "data": {"name": "refs"},
        "mark": {"type": "rule", "color": "#a0a0a0", "strokeWidth": 1},
        "encoding": {
          "y": {"field": "ref", "type": "quantitative", "scale": {"domain": [-0.67, 13.92], "nice": false, "zero": false},
                "axis": {"orient": "left", "title": null, "labels": false, "domain": true, "tickSize": 5, "values": [1,2,3,4,6,7,8,9,11,12,13]}}
        }
      },
      {
        "data": {"name": "raw"},
        "mark": {"type": "point", "shape": "square", "filled": true, "size": 17, "color": "#000000", "opacity": 1, "strokeWidth": 0},
        "encoding": {
          "x": {"field": "x", "type": "quantitative", "scale": {"domain": [5, 10.27], "nice": false, "zero": false},
                "axis": {"orient": "bottom", "title": "Stimulus current (mA)", "titleFontSize": 19.5, "titleBaseline": "alphabetic", "titleX": 230, "titleY": 65, "labelPadding": 9, "tickSize": 19,
                         "values": [5, 6, 7, 8, 9, 10], "format": "d"}},
          "y": {"field": "y", "type": "quantitative", "scale": {"domain": [-0.67, 13.92], "nice": false, "zero": false},
                "axis": {"orient": "left", "title": "CMAP amplitude (mV)", "titleFontSize": 18, "titlePadding": 25, "titleY": 203, "labelPadding": 2, "tickSize": 22,
                         "values": [0, 10], "format": "d"}}
        }
      },
      {
        "data": {"name": "raw"},
        "mark": {"type": "point", "opacity": 0},
        "encoding": {
          "x": {"field": "x", "type": "quantitative", "scale": {"domain": [5, 10.27], "nice": false, "zero": false},
                "axis": {"orient": "bottom", "title": null, "labels": false, "domain": false, "tickSize": 6,
                         "values": [5.1,5.2,5.3,5.4,5.6,5.7,5.8,5.9,6.1,6.2,6.3,6.4,6.6,6.7,6.8,6.9,7.1,7.2,7.3,7.4,7.6,7.7,7.8,7.9,8.1,8.2,8.3,8.4,8.6,8.7,8.8,8.9,9.1,9.2,9.3,9.4,9.6,9.7,9.8,9.9,10.1,10.2]}},
          "y": {"field": "y", "type": "quantitative", "scale": {"domain": [-0.67, 13.92], "nice": false, "zero": false},
                "axis": {"orient": "left", "title": null, "labels": false, "domain": false, "tickSize": 13, "values": [5]}}
        }
      },
      {
        "data": {"name": "raw"},
        "mark": {"type": "point", "opacity": 0},
        "encoding": {
          "x": {"field": "x", "type": "quantitative", "scale": {"domain": [5, 10.27], "nice": false, "zero": false},
                "axis": {"orient": "bottom", "title": null, "labels": false, "domain": false, "tickSize": 14,
                         "values": [5.5, 6.5, 7.5, 8.5, 9.5]}},
          "y": {"field": "y", "type": "quantitative", "scale": {"domain": [-0.67, 13.92], "nice": false, "zero": false}, "axis": null}
        }
      }
    ]
  },
  {
    "width": 450, "height": 420,
    "resolve": {"axis": {"x": "independent"}},
    "layer": [
      {
        "data": {"name": "fit"},
        "mark": {"type": "point", "opacity": 0},
        "encoding": {
          "x": {"field": "x", "type": "quantitative", "scale": {"domain": [5, 10.27], "nice": false, "zero": false},
                "axis": {"orient": "bottom", "title": null, "labels": false, "domain": false, "tickSize": 14,
                         "values": [5.5, 6.5, 7.5, 8.5, 9.5]}},
          "y": {"field": "y", "type": "quantitative", "scale": {"domain": [-0.67, 13.92], "nice": false, "zero": false}, "axis": null}
        }
      },
      {
        "data": {"name": "refs"},
        "mark": {"type": "rule", "color": "#a0a0a0", "strokeWidth": 1},
        "encoding": {
          "y": {"field": "ref", "type": "quantitative", "scale": {"domain": [-0.67, 13.92], "nice": false, "zero": false}, "axis": null}
        }
      },
      {
        "data": {"name": "fit"},
        "mark": {"type": "point", "shape": "square", "filled": true, "size": 17, "color": "#c000c0", "opacity": 1, "strokeWidth": 0},
        "encoding": {
          "x": {"field": "x", "type": "quantitative", "scale": {"domain": [5, 10.27], "nice": false, "zero": false},
                "axis": {"orient": "bottom", "title": "Stimulus current (mA)", "titleFontSize": 19.5, "titleBaseline": "alphabetic", "titleX": 233, "titleY": 65, "labelPadding": 9, "tickSize": 19,
                         "values": [5, 6, 7, 8, 9, 10], "format": "d"}},
          "y": {"field": "y", "type": "quantitative", "scale": {"domain": [-0.67, 13.92], "nice": false, "zero": false}, "axis": null}
        }
      },
      {
        "data": {"name": "fit"},
        "mark": {"type": "point", "opacity": 0},
        "encoding": {
          "x": {"field": "x", "type": "quantitative", "scale": {"domain": [5, 10.27], "nice": false, "zero": false},
                "axis": {"orient": "bottom", "title": null, "labels": false, "domain": false, "tickSize": 6,
                         "values": [5.1,5.2,5.3,5.4,5.6,5.7,5.8,5.9,6.1,6.2,6.3,6.4,6.6,6.7,6.8,6.9,7.1,7.2,7.3,7.4,7.6,7.7,7.8,7.9,8.1,8.2,8.3,8.4,8.6,8.7,8.8,8.9,9.1,9.2,9.3,9.4,9.6,9.7,9.8,9.9,10.1,10.2]}},
          "y": {"field": "y", "type": "quantitative", "scale": {"domain": [-0.67, 13.92], "nice": false, "zero": false}, "axis": null}
        }
      }
    ]
  }
]
}
